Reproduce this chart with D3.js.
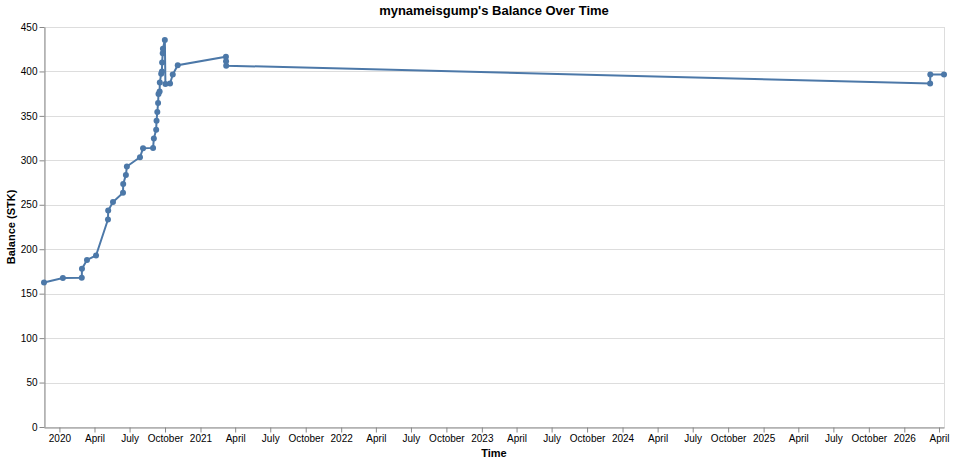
<!DOCTYPE html>
<html>
<head>
<meta charset="utf-8">
<script src="https://cdn.jsdelivr.net/npm/d3@7"></script>
<style>
  body { margin: 0; background: #fff; }
  svg text { font-family: "Liberation Sans", Arial, sans-serif; }
</style>
</head>
<body>
<div id="chart"></div>
<script>
// balance history
var dates = [
  '2019-11-22T00:00', '2020-01-10T00:00', '2020-02-28T00:00', '2020-02-28T12:00',
  '2020-03-12T12:00', '2020-04-05T00:00', '2020-05-06T00:00', '2020-05-06T12:00',
  '2020-05-19T00:00', '2020-06-14T00:00', '2020-06-14T12:00', '2020-06-21T12:00',
  '2020-06-24T00:00', '2020-07-28T00:00', '2020-08-05T00:00', '2020-08-31T00:00',
  '2020-09-02T00:00', '2020-09-08T00:00', '2020-09-09T00:00', '2020-09-11T00:00',
  '2020-09-13T00:00', '2020-09-14T00:00', '2020-09-17T00:00', '2020-09-17T12:00',
  '2020-09-21T00:00', '2020-09-23T00:00', '2020-09-23T12:00', '2020-09-25T00:00',
  '2020-09-25T12:00', '2020-09-30T12:00', '2020-10-02T00:00', '2020-10-14T00:00',
  '2020-10-21T00:00', '2020-11-03T00:00', '2021-03-08T00:00', '2021-03-08T08:00',
  '2021-03-08T16:00', '2026-03-09T00:00', '2026-03-09T12:00', '2026-04-14T00:00'
];
var balances = [
  162.5, 167.5, 168, 178,
  188, 193, 233.5, 243.5,
  253, 263.5, 273.5, 283.5,
  293, 303.5, 313.5, 314,
  324.5, 334.5, 344.5, 354.5,
  364.5, 374.5, 377.5, 387.5,
  397.5, 400, 410, 420.5,
  425.5, 435.5, 386, 386.5,
  396.5, 407, 416.5, 411.5,
  406.5, 386.5, 396.5, 396.5
];
var y_ticks = [0, 50, 100, 150, 200, 250, 300, 350, 400, 450];

var chart_title = "mynameisgump's Balance Over Time";
var x_title = 'Time';
var y_title = 'Balance (STK)';

var W = 954, H = 464;
var margin = { top: 27, left: 44 };
var plot_w = 900, plot_h = 400;
var blue = '#4c78a8';

var parse = d3.timeParse('%Y-%m-%dT%H:%M');
var rows = dates.map(function(d, i) { return { t: parse(d), v: balances[i] }; });

var x_scale = d3.scaleTime()
  .domain(d3.extent(rows, function(d) { return d.t; }))
  .range([0, plot_w]);

var y_scale = d3.scaleLinear()
  .domain([0, 450])
  .range([plot_h, 0]);

var svg = d3.select('#chart').append('svg')
  .attr('width', W)
  .attr('height', H);

var g = svg.append('g')
  .attr('transform', 'translate(' + margin.left + ',' + margin.top + ')');

// view frame
g.append('rect')
  .attr('x', 0.5)
  .attr('y', 0.5)
  .attr('width', plot_w)
  .attr('height', plot_h)
  .style('fill', 'none')
  .style('stroke', '#ddd');

// horizontal grid
g.append('g').selectAll('.grid')
  .data(y_ticks)
  .enter().append('line')
  .attr('class', 'grid')
  .attr('x1', 0)
  .attr('x2', plot_w)
  .attr('y1', function(d) { return Math.round(y_scale(d)) + 0.5; })
  .attr('y2', function(d) { return Math.round(y_scale(d)) + 0.5; })
  .style('stroke', '#ddd');

var fmt_tick = function(d) {
  return d.getMonth() === 0 ? d3.timeFormat('%Y')(d) : d3.timeFormat('%B')(d);
};

var x_axis = g.append('g')
  .attr('transform', 'translate(0,' + (plot_h + 0.5) + ')')
  .call(d3.axisBottom(x_scale)
    .ticks(d3.timeMonth.every(3))
    .tickFormat(fmt_tick)
    .tickSize(5)
    .tickSizeOuter(0)
    .tickPadding(2));

var y_axis = g.append('g')
  .attr('transform', 'translate(0.5,0)')
  .call(d3.axisLeft(y_scale)
    .tickValues(y_ticks)
    .tickSize(5)
    .tickSizeOuter(0)
    .tickPadding(2));

[x_axis, y_axis].forEach(function(ax) {
  ax.select('.domain').style('stroke', '#888');
  ax.selectAll('.tick line').style('stroke', '#888');
  ax.selectAll('.tick text')
    .style('font-size', '10px')
    .style('fill', '#000')
    .style('font-family', '"Liberation Sans", Arial, sans-serif');
});

// line + points
var line = d3.line()
  .x(function(d) { return x_scale(d.t); })
  .y(function(d) { return y_scale(d.v); });

g.append('path')
  .datum(rows)
  .attr('d', line)
  .style('fill', 'none')
  .style('stroke', blue)
  .style('stroke-width', 2);

g.selectAll('.pt')
  .data(rows)
  .enter().append('circle')
  .attr('class', 'pt')
  .attr('cx', function(d) { return x_scale(d.t); })
  .attr('cy', function(d) { return y_scale(d.v); })
  .attr('r', 3)
  .style('fill', blue);

// titles
svg.append('text')
  .attr('x', margin.left + plot_w / 2)
  .attr('y', 15)
  .attr('text-anchor', 'middle')
  .style('font-size', '13px')
  .style('font-weight', 'bold')
  .text(chart_title);

svg.append('text')
  .attr('x', margin.left + plot_w / 2)
  .attr('y', 457)
  .attr('text-anchor', 'middle')
  .style('font-size', '11px')
  .style('font-weight', 'bold')
  .text(x_title);

svg.append('text')
  .attr('transform', 'translate(15,' + (margin.top + plot_h / 2) + ') rotate(-90)')
  .attr('text-anchor', 'middle')
  .style('font-size', '11px')
  .style('font-weight', 'bold')
  .text(y_title);
</script>
</body>
</html>
